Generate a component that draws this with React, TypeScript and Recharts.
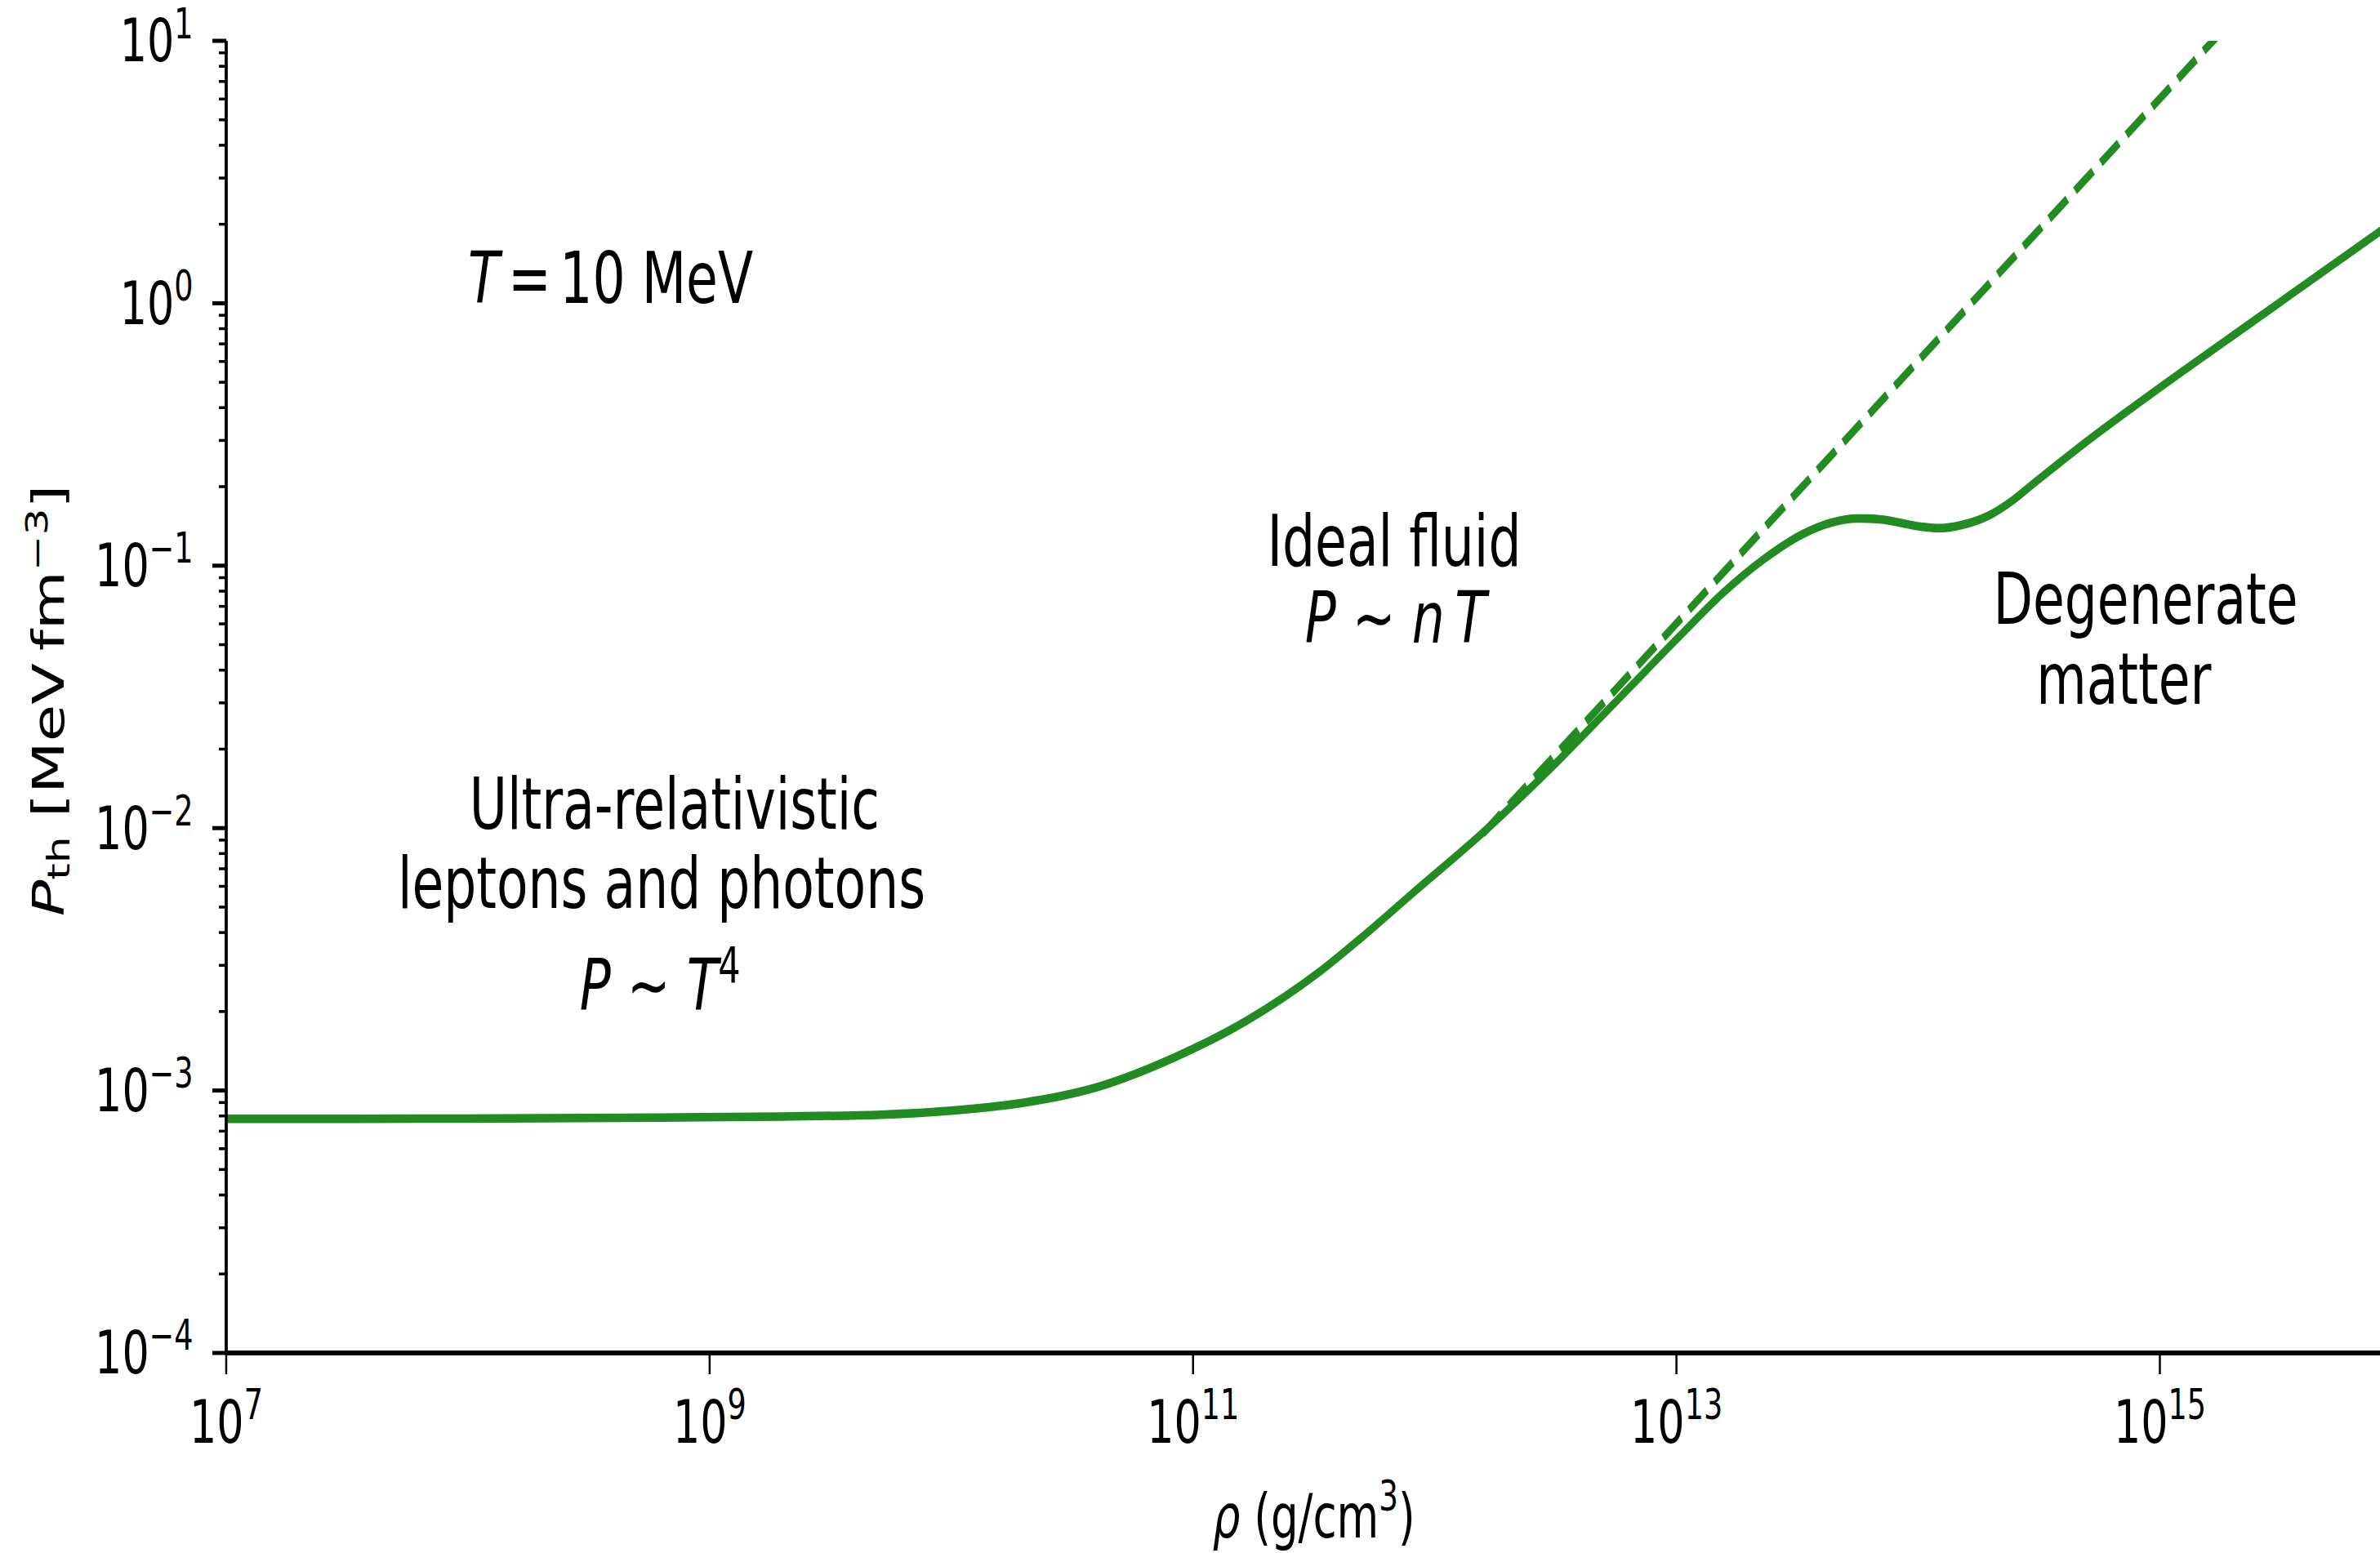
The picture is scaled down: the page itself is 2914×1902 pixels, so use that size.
import React from 'react';
import { LineChart, Line, XAxis, YAxis, ReferenceDot } from 'recharts';

// log10(rho [g/cm^3]) and log10(P_th [MeV fm^-3])
const rhoFull = [7.0, 8.0, 8.8, 9.3, 9.71, 10.01, 10.31, 10.61, 10.92, 11.22, 11.52, 11.70, 11.90, 12.22, 12.46, 12.78, 13.02, 13.19, 13.36, 13.53, 13.64, 13.75, 13.84, 14.01, 14.09, 14.18, 14.29, 14.39, 14.48, 14.70, 14.89, 15.43, 15.92];
const pFull = [-3.108, -3.107, -3.103, -3.099, -3.092, -3.076, -3.045, -2.985, -2.875, -2.735, -2.55, -2.415, -2.255, -2.0, -1.79, -1.489, -1.262, -1.106, -0.976, -0.876, -0.836, -0.820, -0.823, -0.851, -0.857, -0.845, -0.810, -0.752, -0.685, -0.525, -0.395, -0.04, 0.28];

// ideal-fluid asymptote P ~ nT (dashed)
const rhoIdeal = [12.2, 15.5];
const pIdeal = [-2.02, 1.28];

const xTickExps = [7, 9, 11, 13, 15];
const yDecadeExps = [-4, -3, -2, -1, 0, 1];

type Seg = { t: string; i?: boolean; sup?: boolean };
type Anno = { x: number; y: number; anchor: 'start' | 'middle' | 'end'; segs: Seg[] };

const annotations: Anno[] = [
  { x: 8.0, y: 0.0, anchor: 'start', segs: [{ t: 'T', i: true }, { t: '\u2006=\u200610 MeV' }] },
  { x: 8.855, y: -2.0025, anchor: 'middle', segs: [{ t: 'Ultra-relativistic' }] },
  { x: 8.801, y: -2.303, anchor: 'middle', segs: [{ t: 'leptons and photons' }] },
  { x: 8.795, y: -2.693, anchor: 'middle', segs: [{ t: 'P', i: true }, { t: ' \u223C ' }, { t: 'T', i: true }, { t: '4', sup: true }] },
  { x: 11.832, y: -1.0006, anchor: 'middle', segs: [{ t: 'Ideal fluid' }] },
  { x: 11.838, y: -1.292, anchor: 'middle', segs: [{ t: 'P', i: true }, { t: ' \u223C ' }, { t: 'n', i: true }, { t: '\u2009' }, { t: 'T', i: true }] },
  { x: 14.941, y: -1.2215, anchor: 'middle', segs: [{ t: 'Degenerate' }] },
  { x: 14.851, y: -1.5255, anchor: 'middle', segs: [{ t: 'matter' }] },
];

const fullData = rhoFull.map((x, k) => ({ x, y: pFull[k] }));
const idealData = rhoIdeal.map((x, k) => ({ x, y: pIdeal[k] }));

const yTicks: number[] = [];
yDecadeExps.forEach((n) => {
  yTicks.push(n);
  if (n < 1) {
    for (let k = 2; k <= 9; k++) yTicks.push(n + Math.log10(k));
  }
});

const FONT = "'DejaVu Sans', 'Noto Sans', sans-serif";
const GREEN = '#228B22';
const SX = 0.717; // horizontal compression of the reference image

const fmtExp = (n: number) => (n < 0 ? '\u2212' + Math.abs(n) : String(n));

const XTick = (props: any) => {
  const { x, y, payload } = props;
  const v = Math.round(payload.value);
  return (
    <g>
      <line x1={x} x2={x} y1={y} y2={y + 26} stroke="#000" strokeWidth={3.5} />
      <text x={x} y={y + 110} textAnchor="middle" fontFamily={FONT} fontSize={73} fill="#000">
        10<tspan dy={-29} fontSize={51}>{fmtExp(v)}</tspan>
      </text>
    </g>
  );
};

const YTick = (props: any) => {
  const { x, y, payload } = props;
  const v = payload.value;
  const major = Math.abs(v - Math.round(v)) < 1e-9;
  const len = major ? 23.7 : 12.6;
  return (
    <g>
      <line x1={x} x2={x - len} y1={y} y2={y} stroke="#000" strokeWidth={major ? 5 : 3.5} />
      {major && (
        <text x={x - 56.3} y={y + 25.5} textAnchor="end" fontFamily={FONT} fontSize={73} fill="#000">
          10<tspan dy={-29} fontSize={51}>{fmtExp(Math.round(v))}</tspan>
        </text>
      )}
    </g>
  );
};

const YLabel = (props: any) => {
  const vb = props.viewBox || { x: 0, y: 50, width: 386, height: 1607 };
  const cx = vb.x + 109;
  const cy = vb.y + vb.height / 2 + 4.5;
  return (
    <text transform={`translate(${cx},${cy}) rotate(-90)`} textAnchor="middle" fontFamily={FONT} fontSize={74} fill="#000">
      <tspan fontStyle="italic">P</tspan>
      <tspan dy={10} fontSize={52}>th</tspan>
      <tspan dy={-10}> [MeV{'\u2009'}fm</tspan>
      <tspan dy={-28} fontSize={52}>{'\u22123'}</tspan>
      <tspan dy={28}>]</tspan>
    </text>
  );
};

const XLabel = (props: any) => {
  const vb = props.viewBox || { x: 386, y: 1657, width: 3714, height: 245 };
  const cx = vb.x + vb.width / 2;
  const y = vb.y + 226;
  return (
    <text x={cx} y={y} textAnchor="middle" fontFamily={FONT} fontSize={74} fill="#000">
      <tspan fontStyle="italic">{'\u03C1'}</tspan>
      <tspan> (g/cm</tspan>
      <tspan dy={-33} fontSize={52}>3</tspan>
      <tspan dy={33}>)</tspan>
    </text>
  );
};

const makeAnnoShape = (a: Anno) => (p: any) => {
  const { cx, cy } = p;
  if (cx == null || cy == null) return <g />;
  return (
    <text x={cx} y={cy} textAnchor={a.anchor} fontFamily={FONT} fontSize={88} fill="#000">
      {a.segs.map((s, k) =>
        s.sup ? (
          <tspan key={k} dy={-34} fontSize={60}>{s.t}</tspan>
        ) : (
          <tspan key={k} fontStyle={s.i ? 'italic' : 'normal'}>{s.t}</tspan>
        )
      )}
    </text>
  );
};

export default function App() {
  return (
    <div style={{ position: 'absolute', left: 0, top: 0, width: 2914, height: 1902, overflow: 'hidden', background: '#fff' }}>
      <div style={{ width: 4101, height: 1902, transform: `scaleX(${SX})`, transformOrigin: '0 0' }}>
        <LineChart width={4101} height={1902} margin={{ top: 50, right: 0, bottom: 0, left: 0 }}>
          <XAxis
            xAxisId={0}
            dataKey="x"
            type="number"
            domain={[7, 16]}
            allowDataOverflow
            ticks={xTickExps}
            interval={0}
            height={245}
            tickSize={0}
            tickMargin={0}
            tickLine={false}
            tick={(p: any) => <XTick {...p} />}
            axisLine={{ stroke: '#000', strokeWidth: 6 }}
            label={(p: any) => <XLabel {...p} />}
          />
          <XAxis
            xAxisId="top"
            orientation="top"
            type="number"
            domain={[7, 16]}
            height={0}
            tick={false}
            tickLine={false}
            axisLine={{ stroke: '#000', strokeWidth: 6 }}
          />
          <YAxis
            yAxisId={0}
            dataKey="y"
            type="number"
            domain={[-4, 1]}
            allowDataOverflow
            ticks={yTicks}
            interval={0}
            width={386.3}
            tickSize={0}
            tickMargin={0}
            tickLine={false}
            tick={(p: any) => <YTick {...p} />}
            axisLine={{ stroke: '#000', strokeWidth: 5.3 }}
            label={(p: any) => <YLabel {...p} />}
          />
          <Line
            data={fullData}
            dataKey="y"
            type="monotone"
            stroke={GREEN}
            strokeWidth={10.5}
            dot={false}
            activeDot={false}
            isAnimationActive={false}
          />
          <Line
            data={idealData}
            dataKey="y"
            type="linear"
            stroke={GREEN}
            strokeWidth={10.5}
            strokeDasharray="38.9 16.8"
            dot={false}
            activeDot={false}
            isAnimationActive={false}
          />
          {annotations.map((a, k) => (
            <ReferenceDot key={k} x={a.x} y={a.y} r={0} ifOverflow="visible" shape={makeAnnoShape(a)} />
          ))}
        </LineChart>
      </div>
    </div>
  );
}
